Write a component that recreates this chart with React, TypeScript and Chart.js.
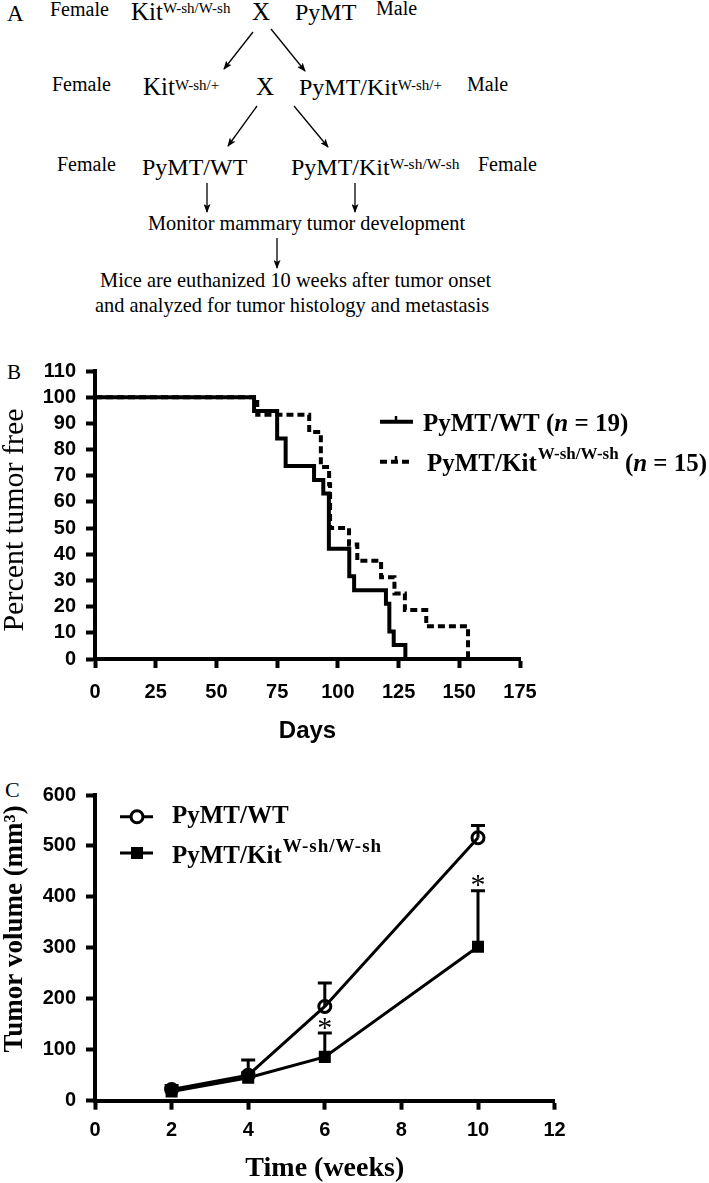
import React, { useEffect, useRef } from 'react';
import { Chart, registerables } from 'chart.js';

Chart.register(...registerables);

const SERIF = '"Liberation Serif", "Times New Roman", Times, serif';
const SANS = '"Liberation Sans", Arial, Helvetica, sans-serif';

// ---------- Panel B: Kaplan-Meier (percent tumor free vs days) ----------
const wtDays = [0, 65.5, 75, 78.5, 90.2, 94, 96.3, 104.7, 106.7, 119.8, 121.2, 123, 127.8];
const wtPct = [100, 94.7, 84.2, 73.7, 68.4, 63.2, 42.1, 31.6, 26.3, 21.1, 10.5, 5.3, 0];
const kitDays = [0, 66.8, 88.2, 93, 96.4, 96.8, 104.6, 108, 117.8, 123.3, 127.6, 136.4, 153.6];
const kitPct = [100, 93.3, 86.7, 73.3, 66.7, 50, 43.75, 37.5, 31.25, 25, 18.75, 12.5, 0];
const bLegend = ['PyMT/WT', 'PyMT/Kit'];
const bN = [19, 15];

// ---------- Panel C: tumor volume vs time ----------
const weeks = [2, 4, 6, 10];
const wtVol = [22, 50, 185, 516];
const wtSem = [8, 30, 46, 24];
const kitVol = [18, 45, 86, 302];
const kitSem = [6, 10, 47, 110];
const sigWeeks = [6, 10];
const sigLevel = [152, 433];

const bPlugin = {
  id: 'bDecor',
  afterDraw(chart: any) {
    const ctx = chart.ctx;
    const ca = chart.chartArea;
    ctx.save();
    ctx.fillStyle = '#000';
    ctx.strokeStyle = '#000';
    // y title
    ctx.save();
    ctx.font = `30px ${SERIF}`;
    ctx.textAlign = 'center';
    ctx.textBaseline = 'alphabetic';
    ctx.translate(23, (ca.top + ca.bottom) / 2 + 5);
    ctx.rotate(-Math.PI / 2);
    ctx.fillText('Percent tumor free', 0, 0);
    ctx.restore();
    // x title
    ctx.font = `bold 24px ${SANS}`;
    ctx.textAlign = 'center';
    ctx.fillText('Days', (ca.left + ca.right) / 2, 398);
    // legend
    ctx.textAlign = 'left';
    ctx.lineWidth = 4;
    ctx.lineCap = 'butt';
    ctx.beginPath();
    ctx.moveTo(380, 81.7);
    ctx.lineTo(413, 81.7);
    ctx.stroke();
    ctx.lineWidth = 2.5;
    ctx.beginPath();
    ctx.moveTo(396, 76);
    ctx.lineTo(396, 82);
    ctx.stroke();
    ctx.lineWidth = 4;
    ctx.setLineDash([7, 4]);
    ctx.beginPath();
    ctx.moveTo(380, 121.7);
    ctx.lineTo(413, 121.7);
    ctx.stroke();
    ctx.setLineDash([]);
    ctx.lineWidth = 2.5;
    ctx.beginPath();
    ctx.moveTo(396, 116);
    ctx.lineTo(396, 122);
    ctx.stroke();

    const big = `bold 25px ${SERIF}`;
    const bigIt = `italic bold 25px ${SERIF}`;
    let x = 423;
    ctx.font = big;
    ctx.fillText(bLegend[0] + ' (', x, 91);
    x += ctx.measureText(bLegend[0] + ' (').width;
    ctx.font = bigIt;
    ctx.fillText('n', x, 91);
    x += ctx.measureText('n').width;
    ctx.font = big;
    ctx.fillText(' = ' + bN[0] + ')', x, 91);
    x = 427;
    ctx.font = big;
    ctx.fillText(bLegend[1], x, 131);
    x += ctx.measureText(bLegend[1]).width + 1;
    ctx.font = `bold 17px ${SERIF}`;
    ctx.fillText('W-sh/W-sh', x, 119);
    x += ctx.measureText('W-sh/W-sh').width;
    ctx.font = big;
    ctx.fillText(' (', x, 131);
    x += ctx.measureText(' (').width;
    ctx.font = bigIt;
    ctx.fillText('n', x, 131);
    x += ctx.measureText('n').width;
    ctx.font = big;
    ctx.fillText(' = ' + bN[1] + ')', x, 131);
    ctx.restore();
  },
};

const cPlugin = {
  id: 'cDecor',
  beforeDatasetsDraw(chart: any) {
    const ctx = chart.ctx;
    const xs = chart.scales.x;
    const ys = chart.scales.y;
    ctx.save();
    ctx.strokeStyle = '#000';
    ctx.lineWidth = 3;
    const groups: [number[], number[]][] = [
      [wtVol, wtSem],
      [kitVol, kitSem],
    ];
    groups.forEach(([m, e]) => {
      weeks.forEach((w, i) => {
        const px = xs.getPixelForValue(w);
        const y0 = ys.getPixelForValue(m[i]);
        const y1 = ys.getPixelForValue(m[i] + e[i]);
        ctx.beginPath();
        ctx.moveTo(px, y0);
        ctx.lineTo(px, y1);
        ctx.moveTo(px - 7, y1);
        ctx.lineTo(px + 7, y1);
        ctx.stroke();
      });
    });
    ctx.restore();
  },
  afterDraw(chart: any) {
    const ctx = chart.ctx;
    const ca = chart.chartArea;
    const xs = chart.scales.x;
    const ys = chart.scales.y;
    ctx.save();
    ctx.fillStyle = '#000';
    ctx.strokeStyle = '#000';
    ctx.font = `30px ${SERIF}`;
    ctx.textAlign = 'center';
    ctx.textBaseline = 'alphabetic';
    sigWeeks.forEach((w, i) => {
      ctx.fillText('*', xs.getPixelForValue(w), ys.getPixelForValue(sigLevel[i]) + 14);
    });
    ctx.save();
    ctx.font = `bold 27px ${SERIF}`;
    ctx.translate(22, (ca.top + ca.bottom) / 2 - 19);
    ctx.rotate(-Math.PI / 2);
    ctx.fillText('Tumor volume (mm\u00B3)', 0, 0);
    ctx.restore();
    ctx.font = `bold 28px ${SERIF}`;
    ctx.textAlign = 'center';
    ctx.fillText('Time (weeks)', (ca.left + ca.right) / 2, 406);
    ctx.textAlign = 'left';
    ctx.lineWidth = 3;
    ctx.beginPath();
    ctx.moveTo(120, 46.7);
    ctx.lineTo(153, 46.7);
    ctx.stroke();
    ctx.beginPath();
    ctx.arc(137, 46.7, 6, 0, Math.PI * 2);
    ctx.fillStyle = '#fff';
    ctx.fill();
    ctx.stroke();
    ctx.fillStyle = '#000';
    ctx.beginPath();
    ctx.moveTo(120, 83);
    ctx.lineTo(153, 83);
    ctx.stroke();
    ctx.fillRect(131, 77, 12, 12);
    ctx.font = `bold 25px ${SERIF}`;
    ctx.fillText('PyMT/WT', 172, 53);
    ctx.fillText('PyMT/Kit', 172, 93);
    const w1 = ctx.measureText('PyMT/Kit').width;
    ctx.font = `bold 19px ${SERIF}`;
    (ctx as any).letterSpacing = '1px';
    ctx.fillText('W-sh/W-sh', 172 + w1 + 1, 82);
    (ctx as any).letterSpacing = '0px';
    ctx.restore();
  },
};

const tickFont = { family: SANS, size: 20, weight: 'bold' as const };

function axisCommon(tickPad: number) {
  return {
    grid: { drawOnChartArea: false, drawTicks: true, tickLength: 9, tickWidth: 4, tickColor: '#000', color: '#000' },
    border: { display: true, width: 4, color: '#000' },
    ticks: { font: tickFont, color: '#000', padding: tickPad, maxRotation: 0, autoSkip: false },
  };
}

const Arrow = ({ x1, y1, x2, y2 }: { x1: number; y1: number; x2: number; y2: number }) => (
  <line x1={x1} y1={y1} x2={x2} y2={y2} stroke="#000" strokeWidth={1.3} markerEnd="url(#ah)" />
);

const T = ({ x, y, s, children }: any) => (
  <text x={x} y={y} fontSize={s} fontFamily={SERIF} fill="#000">
    {children}
  </text>
);

// main text followed directly by a superscript
const TS = ({ x, y, s, main, sup, ss, rise }: any) => (
  <text x={x} y={y} fontFamily={SERIF} fill="#000">
    <tspan fontSize={s}>{main}</tspan>
    <tspan fontSize={ss} dy={-rise}>{sup}</tspan>
  </text>
);

export default function App() {
  const bRef = useRef<HTMLCanvasElement>(null);
  const cRef = useRef<HTMLCanvasElement>(null);

  useEffect(() => {
    const bx = axisCommon(12);
    const by = axisCommon(10);
    const chartB = new Chart(bRef.current as HTMLCanvasElement, {
      type: 'line',
      data: {
        datasets: [
          {
            label: 'PyMT/WT (n = 19)',
            data: wtDays.map((d, i) => ({ x: d, y: wtPct[i] })),
            stepped: 'before',
            borderColor: '#000',
            borderWidth: 4,
            pointRadius: 0,
            fill: false,
            borderJoinStyle: 'miter',
            borderCapStyle: 'butt',
          },
          {
            label: 'PyMT/KitW-sh/W-sh (n = 15)',
            data: kitDays.map((d, i) => ({ x: d, y: kitPct[i] })),
            stepped: 'before',
            borderColor: '#000',
            borderWidth: 4,
            borderDash: [7, 4],
            pointRadius: 0,
            fill: false,
            borderJoinStyle: 'miter',
            borderCapStyle: 'butt',
          },
        ],
      },
      options: {
        animation: false,
        responsive: false,
        events: [],
        layout: { padding: { top: 31, right: 189, left: 0, bottom: 0 } },
        plugins: { legend: { display: false }, tooltip: { enabled: false } },
        scales: {
          x: {
            type: 'linear',
            min: 0,
            max: 175,
            ...bx,
            ticks: { ...bx.ticks, stepSize: 25 },
            afterFit: (s: any) => {
              s.height = 101;
            },
          },
          y: {
            type: 'linear',
            min: 0,
            max: 110,
            ...by,
            ticks: { ...by.ticks, stepSize: 10 },
            afterFit: (s: any) => {
              s.width = 95;
            },
          },
        },
      } as any,
      plugins: [bPlugin],
    });

    const cx = axisCommon(9);
    const cy = axisCommon(10);
    const chartC = new Chart(cRef.current as HTMLCanvasElement, {
      type: 'line',
      data: {
        datasets: [
          {
            label: 'PyMT/WT',
            data: weeks.map((w, i) => ({ x: w, y: wtVol[i] })),
            borderColor: '#000',
            borderWidth: 3,
            pointStyle: 'circle',
            pointRadius: 6,
            pointBorderWidth: 3,
            pointBackgroundColor: 'rgba(0,0,0,0)',
            pointBorderColor: '#000',
            tension: 0,
            fill: false,
          },
          {
            label: 'PyMT/KitW-sh/W-sh',
            data: weeks.map((w, i) => ({ x: w, y: kitVol[i] })),
            borderColor: '#000',
            borderWidth: 3,
            pointStyle: 'rect',
            pointRadius: 8.5,
            pointBorderWidth: 0,
            pointBackgroundColor: '#000',
            pointBorderColor: '#000',
            tension: 0,
            fill: false,
          },
        ],
      },
      options: {
        animation: false,
        responsive: false,
        events: [],
        layout: { padding: { top: 25, right: 154.4, left: 0, bottom: 0 } },
        plugins: { legend: { display: false }, tooltip: { enabled: false } },
        scales: {
          x: {
            type: 'linear',
            min: 0,
            max: 12,
            ...cx,
            ticks: { ...cx.ticks, stepSize: 2 },
            afterFit: (s: any) => {
              s.height = 82.3;
            },
          },
          y: {
            type: 'linear',
            min: 0,
            max: 600,
            ...cy,
            ticks: { ...cy.ticks, stepSize: 100 },
            afterFit: (s: any) => {
              s.width = 95;
            },
          },
        },
      } as any,
      plugins: [cPlugin],
    });

    return () => {
      chartB.destroy();
      chartC.destroy();
    };
  }, []);

  return (
    <div style={{ position: 'absolute', left: 0, top: 0, width: 709, height: 1183, background: '#fff', overflow: 'hidden' }}>
      <svg width={709} height={330} style={{ position: 'absolute', left: 0, top: 0 }}>
        <defs>
          <marker id="ah" markerUnits="userSpaceOnUse" markerWidth="9" markerHeight="7" refX="8" refY="3.5" orient="auto">
            <path d="M0,0 L9,3.5 L0,7 L2,3.5 z" fill="#000" />
          </marker>
        </defs>
        <T x={7} y={21} s={23}>A</T>
        {/* row 1 */}
        <T x={50} y={16} s={20}>Female</T>
        <TS x={131} y={20} s={25} main="Kit" sup="W-sh/W-sh" ss={15} rise={7.5} />
        <T x={252} y={20} s={25}>X</T>
        <T x={295} y={20} s={24}>PyMT</T>
        <T x={376} y={15} s={20}>Male</T>
        <Arrow x1={253} y1={32} x2={224} y2={69} />
        <Arrow x1={271} y1={29} x2={305} y2={71} />
        {/* row 2 */}
        <T x={52} y={91} s={20}>Female</T>
        <TS x={143} y={95} s={25} main="Kit" sup="W-sh/+" ss={15} rise={5.5} />
        <T x={256} y={95} s={25}>X</T>
        <TS x={299} y={95} s={24} main="PyMT/Kit" sup="W-sh/+" ss={15} rise={5.5} />
        <T x={467} y={91} s={20}>Male</T>
        <Arrow x1={257} y1={106} x2={228} y2={146} />
        <Arrow x1={294} y1={106} x2={328} y2={147} />
        {/* row 3 */}
        <T x={57} y={171} s={20}>Female</T>
        <T x={142} y={175} s={24}>PyMT/WT</T>
        <TS x={291} y={175} s={24} main="PyMT/Kit" sup="W-sh/W-sh" ss={15.5} rise={6} />
        <T x={478} y={171} s={20}>Female</T>
        <Arrow x1={207} y1={183} x2={207} y2={212} />
        <Arrow x1={355} y1={183} x2={355} y2={212} />
        <T x={148} y={230} s={20.3}>Monitor mammary tumor development</T>
        <Arrow x1={277} y1={238} x2={277} y2={268} />
        <T x={100} y={287} s={20.4}>Mice are euthanized 10 weeks after tumor onset</T>
        <T x={95} y={312} s={20.4}>and analyzed for tumor histology and metastasis</T>
      </svg>
      <div style={{ position: 'absolute', left: 7, top: 360, font: `21px ${SERIF}`, lineHeight: '24px' }}>B</div>
      <div style={{ position: 'absolute', left: 5, top: 778, font: `22px ${SERIF}`, lineHeight: '24px' }}>C</div>
      <canvas
        ref={bRef}
        width={709}
        height={420}
        style={{ position: 'absolute', left: 0, top: 340, width: 709, height: 420 }}
      />
      <canvas
        ref={cRef}
        width={709}
        height={413}
        style={{ position: 'absolute', left: 0, top: 770, width: 709, height: 413 }}
      />
    </div>
  );
}
